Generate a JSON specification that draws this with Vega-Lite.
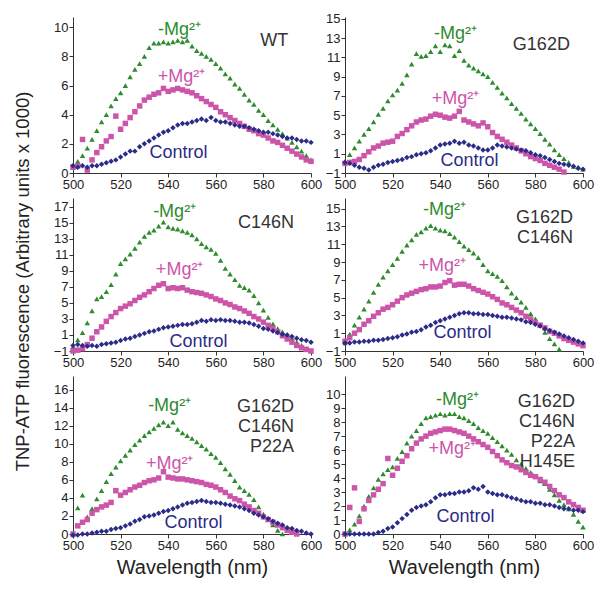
{
"$schema":"https://vega.github.io/schema/vega-lite/v6.json",
"padding":{"left":13,"top":12,"right":5,"bottom":5},
"background":"white",
"data":{"values":[
{"p":1,"w":500,"a":0.4,"b":0.4,"c":0.5},{"p":1,"w":502,"a":0.8,"b":0.5,"c":0.4},{"p":1,"w":504,"a":1.2,"b":2.3,"c":0.5},{"p":1,"w":506,"a":1.7,"b":0.2,"c":0.4},{"p":1,"w":508,"a":2.3,"b":0.9,"c":0.5},{"p":1,"w":510,"a":2.9,"b":1.4,"c":0.5},{"p":1,"w":512,"a":3.5,"b":1.8,"c":0.6},{"p":1,"w":514,"a":4.0,"b":2.2,"c":0.7},{"p":1,"w":516,"a":4.6,"b":2.5,"c":0.8},{"p":1,"w":518,"a":5.1,"b":3.9,"c":0.9},{"p":1,"w":520,"a":5.5,"b":3.0,"c":1.1},{"p":1,"w":522,"a":6.0,"b":3.4,"c":1.3},{"p":1,"w":524,"a":6.6,"b":3.8,"c":1.5},{"p":1,"w":526,"a":7.1,"b":4.2,"c":1.5},{"p":1,"w":528,"a":7.5,"b":4.6,"c":1.8},{"p":1,"w":530,"a":8.0,"b":5.0,"c":2.0},{"p":1,"w":532,"a":8.6,"b":5.2,"c":2.2},{"p":1,"w":534,"a":8.9,"b":5.4,"c":2.4},{"p":1,"w":536,"a":8.9,"b":5.5,"c":2.6},{"p":1,"w":538,"a":9.0,"b":5.8,"c":2.8},{"p":1,"w":540,"a":8.9,"b":5.6,"c":2.9},{"p":1,"w":542,"a":9.0,"b":5.7,"c":3.1},{"p":1,"w":544,"a":9.1,"b":5.8,"c":3.3},{"p":1,"w":546,"a":9.0,"b":5.7,"c":3.4},{"p":1,"w":548,"a":9.1,"b":5.6,"c":3.4},{"p":1,"w":550,"a":8.7,"b":5.5,"c":3.5},{"p":1,"w":552,"a":8.4,"b":5.3,"c":3.6},{"p":1,"w":554,"a":8.2,"b":5.1,"c":3.7},{"p":1,"w":556,"a":8.0,"b":4.9,"c":3.6},{"p":1,"w":558,"a":7.8,"b":4.7,"c":3.8},{"p":1,"w":560,"a":7.5,"b":4.5,"c":3.6},{"p":1,"w":562,"a":7.2,"b":4.2,"c":3.5},{"p":1,"w":564,"a":6.8,"b":4.0,"c":3.5},{"p":1,"w":566,"a":6.5,"b":3.8,"c":3.4},{"p":1,"w":568,"a":6.1,"b":3.6,"c":3.3},{"p":1,"w":570,"a":5.8,"b":3.4,"c":3.2},{"p":1,"w":572,"a":5.4,"b":3.2,"c":3.2},{"p":1,"w":574,"a":5.0,"b":3.0,"c":3.1},{"p":1,"w":576,"a":4.7,"b":2.9,"c":3.0},{"p":1,"w":578,"a":4.3,"b":2.7,"c":2.9},{"p":1,"w":580,"a":4.0,"b":2.6,"c":2.8},{"p":1,"w":582,"a":3.6,"b":2.4,"c":2.8},{"p":1,"w":584,"a":3.3,"b":2.2,"c":2.7},{"p":1,"w":586,"a":3.0,"b":2.1,"c":2.6},{"p":1,"w":588,"a":2.7,"b":1.9,"c":2.5},{"p":1,"w":590,"a":2.4,"b":1.7,"c":2.4},{"p":1,"w":592,"a":2.1,"b":1.5,"c":2.4},{"p":1,"w":594,"a":1.8,"b":1.3,"c":2.3},{"p":1,"w":596,"a":1.5,"b":1.1,"c":2.2},{"p":1,"w":598,"a":1.2,"b":0.9,"c":2.2},{"p":1,"w":600,"a":0.9,"b":0.8,"c":2.1},
{"p":2,"w":500,"a":0.2,"b":0.0,"c":0.1},{"p":2,"w":502,"a":0.9,"b":0.1,"c":0.0},{"p":2,"w":504,"a":1.6,"b":0.2,"c":-0.2},{"p":2,"w":506,"a":2.3,"b":0.4,"c":-0.4},{"p":2,"w":508,"a":3.0,"b":0.8,"c":-0.5},{"p":2,"w":510,"a":3.6,"b":1.2,"c":-0.7},{"p":2,"w":512,"a":4.3,"b":1.6,"c":-0.4},{"p":2,"w":514,"a":5.1,"b":1.8,"c":-0.2},{"p":2,"w":516,"a":5.7,"b":2.1,"c":-0.1},{"p":2,"w":518,"a":6.5,"b":2.2,"c":0.1},{"p":2,"w":520,"a":7.1,"b":2.3,"c":0.2},{"p":2,"w":522,"a":7.6,"b":2.8,"c":0.3},{"p":2,"w":524,"a":8.3,"b":3.1,"c":0.4},{"p":2,"w":526,"a":9.2,"b":3.5,"c":0.6},{"p":2,"w":528,"a":10.3,"b":3.9,"c":0.7},{"p":2,"w":530,"a":11.4,"b":4.3,"c":0.9},{"p":2,"w":532,"a":11.1,"b":4.5,"c":1.0},{"p":2,"w":534,"a":11.2,"b":4.6,"c":1.1},{"p":2,"w":536,"a":11.6,"b":4.9,"c":1.3},{"p":2,"w":538,"a":12.2,"b":5.1,"c":1.6},{"p":2,"w":540,"a":11.6,"b":5.0,"c":1.9},{"p":2,"w":542,"a":12.3,"b":4.8,"c":2.0},{"p":2,"w":544,"a":12.2,"b":4.7,"c":2.1},{"p":2,"w":546,"a":11.2,"b":4.9,"c":2.3},{"p":2,"w":548,"a":11.7,"b":5.4,"c":2.1},{"p":2,"w":550,"a":10.7,"b":4.5,"c":2.2},{"p":2,"w":552,"a":10.2,"b":4.3,"c":1.9},{"p":2,"w":554,"a":9.9,"b":4.1,"c":1.8},{"p":2,"w":556,"a":9.6,"b":3.9,"c":1.6},{"p":2,"w":558,"a":9.3,"b":4.2,"c":1.4},{"p":2,"w":560,"a":9.0,"b":3.8,"c":1.4},{"p":2,"w":562,"a":8.4,"b":3.2,"c":1.6},{"p":2,"w":564,"a":7.9,"b":2.8,"c":1.9},{"p":2,"w":566,"a":7.3,"b":2.5,"c":1.8},{"p":2,"w":568,"a":6.8,"b":2.2,"c":1.7},{"p":2,"w":570,"a":6.2,"b":1.9,"c":1.6},{"p":2,"w":572,"a":5.7,"b":1.6,"c":1.5},{"p":2,"w":574,"a":5.2,"b":1.3,"c":1.4},{"p":2,"w":576,"a":4.6,"b":1.0,"c":1.3},{"p":2,"w":578,"a":4.1,"b":0.7,"c":1.1},{"p":2,"w":580,"a":3.6,"b":0.5,"c":0.9},{"p":2,"w":582,"a":3.1,"b":0.3,"c":0.8},{"p":2,"w":584,"a":2.5,"b":0.0,"c":0.6},{"p":2,"w":586,"a":2.0,"b":-0.2,"c":0.4},{"p":2,"w":588,"a":1.4,"b":-0.4,"c":0.2},{"p":2,"w":590,"a":0.9,"b":-0.6,"c":0.0},{"p":2,"w":592,"a":0.5,"b":-0.9,"c":-0.1},{"p":2,"w":594,"a":0.1,"b":null,"c":-0.2},{"p":2,"w":596,"a":-0.3,"b":null,"c":-0.3},{"p":2,"w":598,"a":-0.4,"b":null,"c":-0.5},{"p":2,"w":600,"a":-0.6,"b":null,"c":-0.6},
{"p":3,"w":500,"a":-0.5,"b":-1.0,"c":-0.3},{"p":3,"w":502,"a":0.4,"b":-0.9,"c":-0.2},{"p":3,"w":504,"a":1.3,"b":-0.7,"c":-0.3},{"p":3,"w":506,"a":2.5,"b":-0.2,"c":-0.4},{"p":3,"w":508,"a":4.0,"b":0.6,"c":-0.3},{"p":3,"w":510,"a":5.5,"b":1.4,"c":-0.4},{"p":3,"w":512,"a":5.8,"b":2.0,"c":-0.2},{"p":3,"w":514,"a":6.4,"b":2.7,"c":-0.1},{"p":3,"w":516,"a":7.3,"b":3.3,"c":0.0},{"p":3,"w":518,"a":8.6,"b":3.8,"c":0.1},{"p":3,"w":520,"a":9.9,"b":4.3,"c":0.3},{"p":3,"w":522,"a":10.5,"b":4.6,"c":0.5},{"p":3,"w":524,"a":11.1,"b":4.9,"c":0.6},{"p":3,"w":526,"a":11.8,"b":5.3,"c":0.8},{"p":3,"w":528,"a":12.6,"b":5.7,"c":1.0},{"p":3,"w":530,"a":13.3,"b":6.0,"c":1.2},{"p":3,"w":532,"a":13.8,"b":6.4,"c":1.4},{"p":3,"w":534,"a":14.1,"b":6.8,"c":1.5},{"p":3,"w":536,"a":14.6,"b":7.2,"c":1.7},{"p":3,"w":538,"a":15.1,"b":7.4,"c":1.9},{"p":3,"w":540,"a":14.5,"b":6.8,"c":2.0},{"p":3,"w":542,"a":14.3,"b":6.9,"c":2.1},{"p":3,"w":544,"a":14.2,"b":6.8,"c":2.2},{"p":3,"w":546,"a":14.0,"b":6.9,"c":2.3},{"p":3,"w":548,"a":13.8,"b":6.6,"c":2.3},{"p":3,"w":550,"a":13.5,"b":6.4,"c":2.4},{"p":3,"w":552,"a":13.0,"b":6.3,"c":2.6},{"p":3,"w":554,"a":12.4,"b":6.2,"c":2.8},{"p":3,"w":556,"a":12.0,"b":6.0,"c":2.7},{"p":3,"w":558,"a":11.7,"b":5.8,"c":2.9},{"p":3,"w":560,"a":11.2,"b":5.5,"c":2.8},{"p":3,"w":562,"a":10.3,"b":5.3,"c":2.9},{"p":3,"w":564,"a":9.3,"b":5.0,"c":2.8},{"p":3,"w":566,"a":8.6,"b":4.8,"c":2.8},{"p":3,"w":568,"a":7.9,"b":4.5,"c":2.7},{"p":3,"w":570,"a":7.2,"b":4.3,"c":2.6},{"p":3,"w":572,"a":6.9,"b":4.0,"c":2.6},{"p":3,"w":574,"a":6.6,"b":3.7,"c":2.5},{"p":3,"w":576,"a":5.9,"b":3.3,"c":2.3},{"p":3,"w":578,"a":5.0,"b":3.0,"c":2.1},{"p":3,"w":580,"a":4.1,"b":2.6,"c":1.8},{"p":3,"w":582,"a":3.2,"b":2.2,"c":1.7},{"p":3,"w":584,"a":2.4,"b":1.8,"c":1.5},{"p":3,"w":586,"a":1.8,"b":1.4,"c":1.3},{"p":3,"w":588,"a":1.4,"b":0.9,"c":1.1},{"p":3,"w":590,"a":1.0,"b":0.5,"c":1.0},{"p":3,"w":592,"a":0.6,"b":0.1,"c":0.8},{"p":3,"w":594,"a":0.1,"b":-0.3,"c":0.6},{"p":3,"w":596,"a":-0.3,"b":-0.6,"c":0.4},{"p":3,"w":598,"a":-0.7,"b":-0.8,"c":0.3},{"p":3,"w":600,"a":-1.0,"b":-1.0,"c":0.1},
{"p":4,"w":500,"a":-0.1,"b":0.1,"c":-0.1},{"p":4,"w":502,"a":0.9,"b":0.5,"c":-0.1},{"p":4,"w":504,"a":1.9,"b":1.0,"c":0.0},{"p":4,"w":506,"a":2.8,"b":1.4,"c":0.0},{"p":4,"w":508,"a":3.7,"b":2.0,"c":0.1},{"p":4,"w":510,"a":4.6,"b":2.4,"c":0.1},{"p":4,"w":512,"a":5.6,"b":2.9,"c":0.2},{"p":4,"w":514,"a":6.5,"b":3.3,"c":0.2},{"p":4,"w":516,"a":7.3,"b":3.7,"c":0.3},{"p":4,"w":518,"a":8.0,"b":3.9,"c":0.4},{"p":4,"w":520,"a":8.7,"b":4.2,"c":0.5},{"p":4,"w":522,"a":9.4,"b":4.6,"c":0.6},{"p":4,"w":524,"a":10.2,"b":5.0,"c":0.8},{"p":4,"w":526,"a":10.9,"b":5.3,"c":0.9},{"p":4,"w":528,"a":11.5,"b":5.5,"c":1.1},{"p":4,"w":530,"a":12.1,"b":5.7,"c":1.2},{"p":4,"w":532,"a":12.4,"b":5.9,"c":1.4},{"p":4,"w":534,"a":12.8,"b":6.0,"c":1.7},{"p":4,"w":536,"a":13.1,"b":6.2,"c":1.9},{"p":4,"w":538,"a":12.8,"b":6.2,"c":2.2},{"p":4,"w":540,"a":12.6,"b":6.3,"c":2.4},{"p":4,"w":542,"a":12.5,"b":6.7,"c":2.6},{"p":4,"w":544,"a":12.2,"b":6.9,"c":2.8},{"p":4,"w":546,"a":11.8,"b":6.4,"c":3.0},{"p":4,"w":548,"a":11.3,"b":6.5,"c":3.2},{"p":4,"w":550,"a":10.8,"b":6.5,"c":3.3},{"p":4,"w":552,"a":10.4,"b":6.3,"c":3.3},{"p":4,"w":554,"a":10.0,"b":6.0,"c":3.2},{"p":4,"w":556,"a":9.5,"b":5.8,"c":3.2},{"p":4,"w":558,"a":8.7,"b":5.6,"c":3.1},{"p":4,"w":560,"a":8.0,"b":5.4,"c":3.1},{"p":4,"w":562,"a":7.7,"b":5.1,"c":3.0},{"p":4,"w":564,"a":7.4,"b":4.8,"c":2.9},{"p":4,"w":566,"a":6.9,"b":4.4,"c":2.8},{"p":4,"w":568,"a":6.2,"b":4.2,"c":2.8},{"p":4,"w":570,"a":5.5,"b":3.9,"c":2.7},{"p":4,"w":572,"a":5.0,"b":3.6,"c":2.6},{"p":4,"w":574,"a":4.5,"b":3.3,"c":2.5},{"p":4,"w":576,"a":3.9,"b":2.9,"c":2.3},{"p":4,"w":578,"a":3.2,"b":2.6,"c":2.2},{"p":4,"w":580,"a":2.6,"b":2.2,"c":2.0},{"p":4,"w":582,"a":1.9,"b":1.9,"c":1.8},{"p":4,"w":584,"a":1.1,"b":1.6,"c":1.5},{"p":4,"w":586,"a":0.4,"b":1.2,"c":1.3},{"p":4,"w":588,"a":-0.2,"b":1.0,"c":1.1},{"p":4,"w":590,"a":-0.8,"b":0.7,"c":0.9},{"p":4,"w":592,"a":null,"b":0.4,"c":0.7},{"p":4,"w":594,"a":null,"b":0.2,"c":0.5},{"p":4,"w":596,"a":null,"b":0.0,"c":0.3},{"p":4,"w":598,"a":null,"b":-0.2,"c":0.1},{"p":4,"w":600,"a":null,"b":-0.4,"c":-0.1},
{"p":5,"w":500,"a":-0.1,"b":0.0,"c":-0.1},{"p":5,"w":502,"a":2.9,"b":0.9,"c":-0.1},{"p":5,"w":504,"a":4.3,"b":1.3,"c":0.0},{"p":5,"w":506,"a":1.9,"b":1.6,"c":0.0},{"p":5,"w":508,"a":2.8,"b":2.3,"c":0.1},{"p":5,"w":510,"a":3.9,"b":2.7,"c":0.2},{"p":5,"w":512,"a":4.8,"b":3.0,"c":0.3},{"p":5,"w":514,"a":5.8,"b":3.2,"c":0.3},{"p":5,"w":516,"a":6.7,"b":3.5,"c":0.5},{"p":5,"w":518,"a":7.4,"b":4.8,"c":0.6},{"p":5,"w":520,"a":8.1,"b":4.3,"c":0.7},{"p":5,"w":522,"a":8.7,"b":4.6,"c":0.9},{"p":5,"w":524,"a":9.3,"b":4.9,"c":1.1},{"p":5,"w":526,"a":9.9,"b":5.2,"c":1.4},{"p":5,"w":528,"a":10.4,"b":5.4,"c":1.6},{"p":5,"w":530,"a":10.9,"b":5.7,"c":1.9},{"p":5,"w":532,"a":11.3,"b":5.9,"c":2.0},{"p":5,"w":534,"a":11.7,"b":6.0,"c":2.1},{"p":5,"w":536,"a":12.1,"b":6.2,"c":2.3},{"p":5,"w":538,"a":12.4,"b":6.9,"c":2.5},{"p":5,"w":540,"a":12.0,"b":6.3,"c":2.6},{"p":5,"w":542,"a":12.4,"b":6.2,"c":2.8},{"p":5,"w":544,"a":11.6,"b":6.1,"c":3.0},{"p":5,"w":546,"a":11.2,"b":6.1,"c":3.2},{"p":5,"w":548,"a":10.9,"b":6.0,"c":3.4},{"p":5,"w":550,"a":10.6,"b":5.9,"c":3.5},{"p":5,"w":552,"a":10.2,"b":5.8,"c":3.6},{"p":5,"w":554,"a":9.8,"b":5.7,"c":3.7},{"p":5,"w":556,"a":9.4,"b":5.5,"c":3.6},{"p":5,"w":558,"a":8.9,"b":5.4,"c":3.5},{"p":5,"w":560,"a":8.5,"b":5.2,"c":3.5},{"p":5,"w":562,"a":7.9,"b":4.9,"c":3.4},{"p":5,"w":564,"a":7.2,"b":4.6,"c":3.3},{"p":5,"w":566,"a":6.6,"b":4.2,"c":3.2},{"p":5,"w":568,"a":5.9,"b":3.9,"c":3.1},{"p":5,"w":570,"a":5.2,"b":3.7,"c":3.0},{"p":5,"w":572,"a":4.8,"b":3.3,"c":2.8},{"p":5,"w":574,"a":4.4,"b":3.0,"c":2.6},{"p":5,"w":576,"a":3.8,"b":2.6,"c":2.3},{"p":5,"w":578,"a":3.0,"b":2.3,"c":2.1},{"p":5,"w":580,"a":2.2,"b":1.9,"c":1.9},{"p":5,"w":582,"a":1.6,"b":1.6,"c":1.7},{"p":5,"w":584,"a":1.0,"b":1.3,"c":1.4},{"p":5,"w":586,"a":0.4,"b":1.0,"c":1.2},{"p":5,"w":588,"a":0.0,"b":0.7,"c":1.0},{"p":5,"w":590,"a":null,"b":0.4,"c":0.7},{"p":5,"w":592,"a":null,"b":0.2,"c":0.6},{"p":5,"w":594,"a":null,"b":0.0,"c":0.4},{"p":5,"w":596,"a":null,"b":null,"c":0.3},{"p":5,"w":598,"a":null,"b":null,"c":0.1},{"p":5,"w":600,"a":null,"b":null,"c":0.0},
{"p":6,"w":500,"a":0.0,"b":0.0,"c":0.0},{"p":6,"w":502,"a":0.3,"b":1.9,"c":0.0},{"p":6,"w":504,"a":0.7,"b":3.3,"c":0.0},{"p":6,"w":506,"a":1.3,"b":0.9,"c":0.0},{"p":6,"w":508,"a":2.0,"b":1.8,"c":0.0},{"p":6,"w":510,"a":2.7,"b":2.4,"c":0.0},{"p":6,"w":512,"a":3.3,"b":2.8,"c":0.0},{"p":6,"w":514,"a":3.9,"b":3.2,"c":0.1},{"p":6,"w":516,"a":4.3,"b":3.6,"c":0.2},{"p":6,"w":518,"a":4.6,"b":5.4,"c":0.4},{"p":6,"w":520,"a":4.8,"b":4.2,"c":0.5},{"p":6,"w":522,"a":5.4,"b":4.7,"c":0.8},{"p":6,"w":524,"a":5.9,"b":5.2,"c":1.1},{"p":6,"w":526,"a":6.5,"b":5.6,"c":1.4},{"p":6,"w":528,"a":7.0,"b":6.1,"c":1.7},{"p":6,"w":530,"a":7.4,"b":6.5,"c":1.9},{"p":6,"w":532,"a":7.9,"b":6.8,"c":2.0},{"p":6,"w":534,"a":8.3,"b":7.0,"c":2.1},{"p":6,"w":536,"a":8.4,"b":7.2,"c":2.3},{"p":6,"w":538,"a":8.5,"b":7.3,"c":2.6},{"p":6,"w":540,"a":8.6,"b":7.4,"c":2.8},{"p":6,"w":542,"a":8.5,"b":7.5,"c":2.8},{"p":6,"w":544,"a":8.6,"b":7.5,"c":2.9},{"p":6,"w":546,"a":8.6,"b":7.4,"c":2.9},{"p":6,"w":548,"a":8.4,"b":7.3,"c":3.0},{"p":6,"w":550,"a":8.3,"b":7.2,"c":3.0},{"p":6,"w":552,"a":8.1,"b":7.0,"c":3.1},{"p":6,"w":554,"a":7.9,"b":6.8,"c":3.3},{"p":6,"w":556,"a":7.6,"b":6.6,"c":3.2},{"p":6,"w":558,"a":7.4,"b":6.4,"c":3.4},{"p":6,"w":560,"a":7.2,"b":6.2,"c":3.0},{"p":6,"w":562,"a":6.9,"b":5.9,"c":2.9},{"p":6,"w":564,"a":6.6,"b":5.6,"c":2.8},{"p":6,"w":566,"a":6.3,"b":5.3,"c":2.8},{"p":6,"w":568,"a":6.0,"b":5.1,"c":2.7},{"p":6,"w":570,"a":5.7,"b":4.9,"c":2.6},{"p":6,"w":572,"a":5.3,"b":4.8,"c":2.5},{"p":6,"w":574,"a":5.0,"b":4.6,"c":2.4},{"p":6,"w":576,"a":4.7,"b":4.4,"c":2.3},{"p":6,"w":578,"a":4.4,"b":4.2,"c":2.3},{"p":6,"w":580,"a":4.1,"b":4.1,"c":2.2},{"p":6,"w":582,"a":3.8,"b":3.9,"c":2.2},{"p":6,"w":584,"a":3.6,"b":3.7,"c":2.1},{"p":6,"w":586,"a":3.2,"b":3.4,"c":2.1},{"p":6,"w":588,"a":2.8,"b":3.1,"c":2.0},{"p":6,"w":590,"a":2.4,"b":2.8,"c":1.9},{"p":6,"w":592,"a":2.1,"b":2.6,"c":1.8},{"p":6,"w":594,"a":1.8,"b":2.3,"c":1.8},{"p":6,"w":596,"a":1.4,"b":2.1,"c":1.7},{"p":6,"w":598,"a":0.9,"b":1.9,"c":1.7},{"p":6,"w":600,"a":0.5,"b":1.7,"c":1.6}
]},
"columns":2,
"bounds":"flush",
"spacing":{"row":25,"column":34},
"concat":[
{"width":238,"height":156,
 "encoding":{
   "x":{"field":"w","type":"quantitative","scale":{"domain":[500,600],"nice":false},"axis":{"values":[500,520,540,560,580,600],"title":null}},
   "y":{"field":"v","type":"quantitative","scale":{"domain":[0,10.7],"nice":false,"zero":false},"axis":{"values":[0,2,4,6,8,10],"title":null}}},
 "layer":[
 {"transform":[{"filter":"datum.p==1"},{"fold":["a","b","c"],"as":["s","v"]}],
  "mark":{"type":"point","filled":true,"opacity":1,"size":30},
  "encoding":{
   "color":{"field":"s","type":"nominal","scale":{"domain":["a","b","c"],"range":["#2e8b2e","#cc55aa","#2b2b88"]},"legend":null},
   "shape":{"field":"s","type":"nominal","scale":{"domain":["a","b","c"],"range":["triangle-up","square","diamond"]},"legend":null}}},
 {"data":{"values":[{"t":"-Mg²⁺","s":"a","w":544.8,"v":9.8},{"t":"+Mg²⁺","s":"b","w":545.6,"v":6.6},{"t":"Control","s":"c","w":544.3,"v":1.4}]},
  "mark":{"type":"text","fontSize":18},
  "encoding":{"text":{"field":"t"},"color":{"field":"s","type":"nominal","legend":null}}},
 {"data":{"values":[{"t":"WT","w":590.4,"v":9.66}]},
  "mark":{"type":"text","align":"right","baseline":"top","fontSize":18,"lineBreak":"\n","lineHeight":20,"color":"#333"},
  "encoding":{"text":{"field":"t"}}}
]},
{"width":238,"height":156,
 "encoding":{
   "x":{"field":"w","type":"quantitative","scale":{"domain":[500,600],"nice":false},"axis":{"values":[500,520,540,560,580,600],"title":null}},
   "y":{"field":"v","type":"quantitative","scale":{"domain":[-1,15.2],"nice":false,"zero":false},"axis":{"values":[-1,1,3,5,7,9,11,13,15],"title":null}}},
 "layer":[
 {"transform":[{"filter":"datum.p==2"},{"fold":["a","b","c"],"as":["s","v"]}],
  "mark":{"type":"point","filled":true,"opacity":1,"size":30},
  "encoding":{
   "color":{"field":"s","type":"nominal","scale":{"domain":["a","b","c"],"range":["#2e8b2e","#cc55aa","#2b2b88"]},"legend":null},
   "shape":{"field":"s","type":"nominal","scale":{"domain":["a","b","c"],"range":["triangle-up","square","diamond"]},"legend":null}}},
 {"data":{"values":[{"t":"-Mg²⁺","s":"a","w":546.4,"v":13.4},{"t":"+Mg²⁺","s":"b","w":546.4,"v":6.7},{"t":"Control","s":"c","w":552.3,"v":0.25}]},
  "mark":{"type":"text","fontSize":18},
  "encoding":{"text":{"field":"t"},"color":{"field":"s","type":"nominal","legend":null}}},
 {"data":{"values":[{"t":"G162D","w":594.5,"v":13.2}]},
  "mark":{"type":"text","align":"right","baseline":"top","fontSize":18,"lineBreak":"\n","lineHeight":20,"color":"#333"},
  "encoding":{"text":{"field":"t"}}}
]},
{"width":238,"height":153,
 "encoding":{
   "x":{"field":"w","type":"quantitative","scale":{"domain":[500,600],"nice":false},"axis":{"values":[500,520,540,560,580,600],"title":null}},
   "y":{"field":"v","type":"quantitative","scale":{"domain":[-1,18.1],"nice":false,"zero":false},"axis":{"values":[-1,1,3,5,7,9,11,13,15,17],"title":"TNP-ATP fluorescence  (Arbitrary units x 1000)","titleFontSize":18.5,"titlePadding":21,"titleY":83}}},
 "layer":[
 {"transform":[{"filter":"datum.p==3"},{"fold":["a","b","c"],"as":["s","v"]}],
  "mark":{"type":"point","filled":true,"opacity":1,"size":30},
  "encoding":{
   "color":{"field":"s","type":"nominal","scale":{"domain":["a","b","c"],"range":["#2e8b2e","#cc55aa","#2b2b88"]},"legend":null},
   "shape":{"field":"s","type":"nominal","scale":{"domain":["a","b","c"],"range":["triangle-up","square","diamond"]},"legend":null}}},
 {"data":{"values":[{"t":"-Mg²⁺","s":"a","w":542.7,"v":16.4},{"t":"+Mg²⁺","s":"b","w":544.8,"v":9.1},{"t":"Control","s":"c","w":552.7,"v":0.1}]},
  "mark":{"type":"text","fontSize":18},
  "encoding":{"text":{"field":"t"},"color":{"field":"s","type":"nominal","legend":null}}},
 {"data":{"values":[{"t":"C146N","w":592.9,"v":16.1}]},
  "mark":{"type":"text","align":"right","baseline":"top","fontSize":18,"lineBreak":"\n","lineHeight":20,"color":"#333"},
  "encoding":{"text":{"field":"t"}}}
]},
{"width":238,"height":153,
 "encoding":{
   "x":{"field":"w","type":"quantitative","scale":{"domain":[500,600],"nice":false},"axis":{"values":[500,520,540,560,580,600],"title":null}},
   "y":{"field":"v","type":"quantitative","scale":{"domain":[-1,16.2],"nice":false,"zero":false},"axis":{"values":[-1,1,3,5,7,9,11,13,15],"title":null}}},
 "layer":[
 {"transform":[{"filter":"datum.p==4"},{"fold":["a","b","c"],"as":["s","v"]}],
  "mark":{"type":"point","filled":true,"opacity":1,"size":30},
  "encoding":{
   "color":{"field":"s","type":"nominal","scale":{"domain":["a","b","c"],"range":["#2e8b2e","#cc55aa","#2b2b88"]},"legend":null},
   "shape":{"field":"s","type":"nominal","scale":{"domain":["a","b","c"],"range":["triangle-up","square","diamond"]},"legend":null}}},
 {"data":{"values":[{"t":"-Mg²⁺","s":"a","w":541.8,"v":14.8},{"t":"+Mg²⁺","s":"b","w":540.9,"v":8.6},{"t":"Control","s":"c","w":549.4,"v":1.0}]},
  "mark":{"type":"text","fontSize":18},
  "encoding":{"text":{"field":"t"},"color":{"field":"s","type":"nominal","legend":null}}},
 {"data":{"values":[{"t":"G162D\nC146N","w":595.8,"v":15.0}]},
  "mark":{"type":"text","align":"right","baseline":"top","fontSize":18,"lineBreak":"\n","lineHeight":20,"color":"#333"},
  "encoding":{"text":{"field":"t"}}}
]},
{"width":238,"height":158,
 "encoding":{
   "x":{"field":"w","type":"quantitative","scale":{"domain":[500,600],"nice":false},"axis":{"values":[500,520,540,560,580,600],"title":"Wavelength (nm)","titleFontSize":20,"titlePadding":5}},
   "y":{"field":"v","type":"quantitative","scale":{"domain":[0,17.5],"nice":false,"zero":false},"axis":{"values":[0,2,4,6,8,10,12,14,16],"title":null}}},
 "layer":[
 {"transform":[{"filter":"datum.p==5"},{"fold":["a","b","c"],"as":["s","v"]}],
  "mark":{"type":"point","filled":true,"opacity":1,"size":30},
  "encoding":{
   "color":{"field":"s","type":"nominal","scale":{"domain":["a","b","c"],"range":["#2e8b2e","#cc55aa","#2b2b88"]},"legend":null},
   "shape":{"field":"s","type":"nominal","scale":{"domain":["a","b","c"],"range":["triangle-up","square","diamond"]},"legend":null}}},
 {"data":{"values":[{"t":"-Mg²⁺","s":"a","w":540.6,"v":14.2},{"t":"+Mg²⁺","s":"b","w":540.6,"v":7.8},{"t":"Control","s":"c","w":550.6,"v":1.2}]},
  "mark":{"type":"text","fontSize":18},
  "encoding":{"text":{"field":"t"},"color":{"field":"s","type":"nominal","legend":null}}},
 {"data":{"values":[{"t":"G162D\nC146N\nP22A","w":592.9,"v":15.1}]},
  "mark":{"type":"text","align":"right","baseline":"top","fontSize":18,"lineBreak":"\n","lineHeight":20,"color":"#333"},
  "encoding":{"text":{"field":"t"}}}
]},
{"width":238,"height":158,
 "encoding":{
   "x":{"field":"w","type":"quantitative","scale":{"domain":[500,600],"nice":false},"axis":{"values":[500,520,540,560,580,600],"title":"Wavelength (nm)","titleFontSize":20,"titlePadding":5}},
   "y":{"field":"v","type":"quantitative","scale":{"domain":[0,11.3],"nice":false,"zero":false},"axis":{"values":[0,1,2,3,4,5,6,7,8,9,10],"title":null}}},
 "layer":[
 {"transform":[{"filter":"datum.p==6"},{"fold":["a","b","c"],"as":["s","v"]}],
  "mark":{"type":"point","filled":true,"opacity":1,"size":30},
  "encoding":{
   "color":{"field":"s","type":"nominal","scale":{"domain":["a","b","c"],"range":["#2e8b2e","#cc55aa","#2b2b88"]},"legend":null},
   "shape":{"field":"s","type":"nominal","scale":{"domain":["a","b","c"],"range":["triangle-up","square","diamond"]},"legend":null}}},
 {"data":{"values":[{"t":"-Mg²⁺","s":"a","w":547.3,"v":9.6},{"t":"+Mg²⁺","s":"b","w":545.1,"v":6.1},{"t":"Control","s":"c","w":550.6,"v":1.2}]},
  "mark":{"type":"text","fontSize":18},
  "encoding":{"text":{"field":"t"},"color":{"field":"s","type":"nominal","legend":null}}},
 {"data":{"values":[{"t":"G162D\nC146N\nP22A\nH145E","w":596.6,"v":10.1}]},
  "mark":{"type":"text","align":"right","baseline":"top","fontSize":18,"lineBreak":"\n","lineHeight":20,"color":"#333"},
  "encoding":{"text":{"field":"t"}}}
]}
],
"config":{
 "view":{"stroke":null},
 "font":"Liberation Sans",
 "axis":{"grid":false,"domainColor":"#333","tickColor":"#333","labelColor":"#222","labelFont":"Liberation Sans","labelFontSize":13,"tickSize":4,"labelPadding":1,"labelFlush":false,"labelOverlap":false,"titleFont":"Liberation Sans","titleColor":"#222","titleFontWeight":"normal"},
 "text":{"font":"Liberation Sans"}
}
}
